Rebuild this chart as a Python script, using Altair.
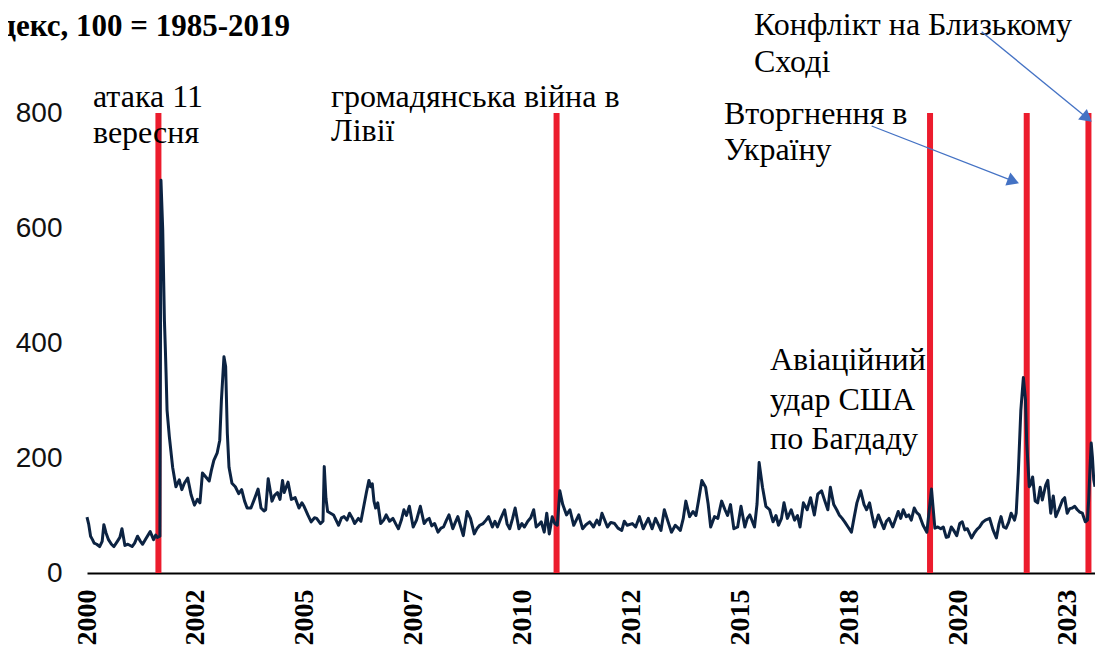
import altair as alt
import pandas as pd

# ---- series readings: decimal year / index value, by period ----
t_p1 = [2000.00, 2000.04, 2000.085, 2000.13, 2000.17, 2000.23, 2000.30, 2000.36, 2000.40, 2000.45,
        2000.51, 2000.58, 2000.64, 2000.72, 2000.78, 2000.83, 2000.90, 2000.97, 2001.07, 2001.13,
        2001.20, 2001.26, 2001.32, 2001.40, 2001.50, 2001.58, 2001.63, 2001.67, 2001.73]
v_p1 = [97, 85, 64, 58, 52, 50, 46, 55, 84, 70,
        58, 50, 46, 55, 62, 77, 48, 50, 46, 52,
        64, 56, 50, 60, 72, 58, 66, 62, 64]

t_p2 = [2001.755, 2001.797, 2001.837, 2001.86, 2001.876, 2001.90, 2001.954, 2002.032, 2002.11, 2002.19,
        2002.25, 2002.31, 2002.39, 2002.47, 2002.55, 2002.62, 2002.68, 2002.74, 2002.82, 2002.90,
        2002.95, 2003.01, 2003.09, 2003.15, 2003.19, 2003.25, 2003.29, 2003.33, 2003.37, 2003.44,
        2003.52, 2003.60, 2003.67, 2003.74, 2003.80, 2003.89, 2003.97]
v_p2 = [683, 597, 440, 388, 348, 283, 237, 184, 150, 162,
        145, 156, 165, 136, 118, 128, 122, 174, 167, 160,
        178, 196, 209, 231, 301, 376, 359, 243, 184, 156,
        150, 138, 145, 125, 113, 113, 128]

t_p3 = [2004.06, 2004.13, 2004.20, 2004.24, 2004.30, 2004.39, 2004.45, 2004.52, 2004.58, 2004.64,
        2004.68, 2004.77, 2004.85, 2004.94, 2005.03, 2005.10, 2005.15, 2005.24, 2005.32, 2005.40,
        2005.45, 2005.54, 2005.60, 2005.63, 2005.67, 2005.71, 2005.78, 2005.85, 2005.91, 2005.97,
        2006.04, 2006.10, 2006.17, 2006.23, 2006.30, 2006.35, 2006.44, 2006.50, 2006.56, 2006.63,
        2006.69, 2006.73, 2006.77, 2006.81, 2006.85, 2006.90, 2006.97]
v_p3 = [146, 113, 108, 110, 164, 125, 135, 140, 128, 161,
        140, 158, 128, 131, 113, 122, 116, 101, 89, 96,
        95, 86, 90, 185, 130, 107, 104, 101, 92, 83,
        96, 98, 92, 104, 95, 86, 95, 90, 113, 140,
        161, 150, 155, 125, 113, 122, 86]

t_p4 = [2007.04, 2007.10, 2007.18, 2007.26, 2007.33, 2007.39, 2007.46, 2007.52, 2007.58, 2007.65,
        2007.74, 2007.82, 2007.91, 2008.00, 2008.06, 2008.12, 2008.18, 2008.25, 2008.33, 2008.40,
        2008.46, 2008.53, 2008.59, 2008.68, 2008.74, 2008.80, 2008.87, 2008.93, 2009.02, 2009.10,
        2009.19, 2009.26, 2009.32, 2009.40, 2009.47, 2009.53, 2009.62, 2009.68, 2009.74, 2009.82,
        2009.91, 2009.97, 2010.03, 2010.10, 2010.16, 2010.25, 2010.32, 2010.38, 2010.46, 2010.53,
        2010.60, 2010.66, 2010.72, 2010.78, 2010.85, 2010.91, 2010.97, 2011.04, 2011.10]
v_p4 = [92, 101, 90, 95, 85, 77, 92, 110, 100, 116,
        80, 92, 116, 86, 92, 95, 82, 86, 71, 78,
        80, 92, 101, 77, 88, 98, 80, 65, 107, 95,
        68, 78, 83, 86, 92, 98, 80, 90, 80, 95,
        110, 85, 77, 95, 113, 77, 86, 80, 90, 96,
        110, 80, 84, 89, 71, 104, 68, 98, 86]

t_p5 = [2011.16, 2011.22, 2011.29, 2011.38, 2011.46, 2011.55, 2011.61, 2011.67, 2011.76, 2011.84,
        2011.93, 2012.02, 2012.10, 2012.16, 2012.22, 2012.35, 2012.43, 2012.52, 2012.60, 2012.69,
        2012.75, 2012.82, 2012.94, 2013.02, 2013.11, 2013.20, 2013.32, 2013.41, 2013.49, 2013.56,
        2013.62, 2013.70, 2013.79, 2013.87, 2013.96, 2014.03, 2014.08, 2014.15, 2014.21, 2014.30,
        2014.38, 2014.45, 2014.51, 2014.59, 2014.68, 2014.74, 2014.80, 2014.89, 2014.97]
v_p5 = [83, 143, 119, 101, 110, 83, 92, 101, 77, 84,
        89, 80, 92, 84, 104, 80, 88, 86, 78, 74,
        90, 83, 86, 80, 98, 77, 95, 77, 95, 84,
        74, 110, 89, 71, 83, 78, 74, 95, 125, 98,
        107, 100, 125, 161, 149, 120, 80, 98, 95]

t_p6 = [2015.06, 2015.14, 2015.20, 2015.27, 2015.35, 2015.44, 2015.52, 2015.61, 2015.67, 2015.73,
        2015.84, 2015.90, 2015.95, 2016.03, 2016.11, 2016.20, 2016.28, 2016.35, 2016.41, 2016.48,
        2016.54, 2016.62, 2016.71, 2016.79, 2016.86, 2016.92, 2017.00, 2017.09, 2017.17, 2017.26,
        2017.34, 2017.43, 2017.51, 2017.58, 2017.64, 2017.72, 2017.79, 2017.85, 2017.92, 2017.98,
        2018.06, 2018.14, 2018.20, 2018.27, 2018.36, 2018.44, 2018.50, 2018.57, 2018.63, 2018.69,
        2018.78, 2018.85, 2018.91, 2018.97, 2019.03, 2019.12, 2019.18, 2019.25, 2019.31, 2019.37,
        2019.44, 2019.50, 2019.56, 2019.63, 2019.69, 2019.75, 2019.84, 2019.93]
v_p6 = [125, 110, 100, 119, 77, 80, 116, 80, 95, 101,
        80, 120, 192, 149, 116, 110, 89, 100, 83, 95,
        122, 95, 110, 92, 100, 80, 122, 110, 131, 101,
        137, 143, 125, 110, 149, 119, 110, 101, 95, 89,
        80, 71, 95, 122, 143, 119, 110, 122, 100, 80,
        101, 88, 77, 90, 95, 80, 92, 107, 95, 110,
        98, 101, 92, 113, 105, 101, 83, 71]

t_p7 = [2020.04, 2020.12, 2020.19, 2020.26, 2020.32, 2020.39, 2020.44, 2020.51, 2020.56, 2020.64,
        2020.71, 2020.77, 2020.83, 2020.89, 2020.99, 2021.06, 2021.12, 2021.18, 2021.25, 2021.32,
        2021.42, 2021.50, 2021.58, 2021.64, 2021.69, 2021.75, 2021.81, 2021.87, 2021.93, 2022.01,
        2022.05, 2022.10, 2022.16, 2022.22, 2022.27, 2022.30, 2022.36, 2022.40, 2022.44, 2022.50,
        2022.56, 2022.62, 2022.67, 2022.75, 2022.80, 2022.87, 2022.93, 2022.99, 2023.06, 2023.15,
        2023.20, 2023.26, 2023.32, 2023.38, 2023.44, 2023.50, 2023.56, 2023.62, 2023.69, 2023.74,
        2023.77, 2023.80, 2023.83, 2023.86, 2023.89, 2023.92]
v_p7 = [146, 78, 80, 77, 80, 62, 63, 80, 75, 65,
        86, 89, 75, 77, 61, 70, 76, 80, 88, 92,
        95, 75, 61, 85, 98, 80, 78, 88, 104, 92,
        104, 174, 283, 340, 301, 226, 150, 155, 167, 125,
        122, 149, 127, 153, 161, 104, 134, 98, 110, 127,
        131, 104, 112, 113, 116, 110, 106, 104, 89, 92,
        127, 180, 226, 200, 162, 150]

# ---- events (red vertical lines) ----
event_dates = ["2001-09-11", "2011-02-22", "2020-01-03", "2022-04-20", "2023-10-07"]

# ---- annotations ----
ann_text = ["атака 11", "вересня", "громадянська війна в", "Лівії",
            "Конфлікт на Близькому", "Сході", "Вторгнення в", "Україну",
            "Авіаційний", "удар США", "по Багдаду"]
ann_year = [2000.142, 2000.142, 2005.790, 2005.790,
            2015.828, 2015.828, 2015.116, 2015.116,
            2016.208, 2016.208, 2016.208]
ann_value = [810, 748, 810, 751,
             936, 871, 781, 718,
             353, 284, 216]

title_text = "Індекс, 100 = 1985-2019"
title_year = 2004.817
title_value = 934

# arrows: start (year, value) -> head (year, value), head angle (deg)
arrow_y0 = [2018.621, 2021.231]
arrow_v0 = [777.4, 941.4]
arrow_y1 = [2021.984, 2023.733]
arrow_v1 = [681.4, 791.3]
arrow_ang = [21.3, 39.3]

tick_dates = ["2000-01-01", "2002-08-02", "2005-03-03", "2007-10-03", "2010-05-04",
              "2012-12-03", "2015-07-05", "2018-02-03", "2020-09-04", "2023-04-06"]
x_domain_years = [2000.0, 2023.92]
y_ticks = [0, 200, 400, 600, 800]


def dec_to_iso(y):
    ts = pd.Timestamp("2000-01-01") + pd.Timedelta(days=(y - 2000.0) * 365.25)
    return ts.strftime("%Y-%m-%dT%H:%M:%S")


t_all = t_p1 + t_p2 + t_p3 + t_p4 + t_p5 + t_p6 + t_p7
v_all = v_p1 + v_p2 + v_p3 + v_p4 + v_p5 + v_p6 + v_p7
line_df = pd.DataFrame({"date": [dec_to_iso(t) for t in t_all], "value": v_all})
ev_df = pd.DataFrame({"date": [d + "T00:00:00" for d in event_dates], "lo": 0, "hi": 800})
ann_df = pd.DataFrame({"date": [dec_to_iso(t) for t in ann_year], "value": ann_value, "text": ann_text})
title_df = pd.DataFrame({"date": [dec_to_iso(title_year)], "value": [title_value], "text": [title_text]})
arr_df = pd.DataFrame({
    "date": [dec_to_iso(t) for t in arrow_y0], "value": arrow_v0,
    "date2": [dec_to_iso(t) for t in arrow_y1], "value2": arrow_v1,
    "ang": arrow_ang,
})

NAVY = "#0c2342"
RED = "#ec1c2d"
BLUE = "#4472c4"

x_scale = alt.Scale(domain=[dec_to_iso(x_domain_years[0]), dec_to_iso(x_domain_years[1])])
y_scale = alt.Scale(domain=[0, 800], nice=False, zero=True)

x_axis = alt.Axis(
    values=[d + "T00:00:00" for d in tick_dates], format="%Y", title=None,
    labelAngle=270, labelFont="Liberation Serif", labelFontWeight="bold", labelFontSize=28,
    labelColor="#000000", labelPadding=16, labelFlush=False, labelOverlap=False, labelBound=False,
    ticks=False, grid=False, domain=True, domainColor="#000000", domainWidth=2,
)
y_axis = alt.Axis(
    values=y_ticks, title=None, labelFont="Liberation Sans", labelFontSize=28,
    labelColor="#111111", labelPadding=25, ticks=False, grid=False, domain=False,
)

X = alt.X("date:T", scale=x_scale, axis=x_axis)
Y = alt.Y("value:Q", scale=y_scale, axis=y_axis)

events = alt.Chart(ev_df).mark_rule(color=RED, strokeWidth=6).encode(
    x=X, y=alt.Y("lo:Q", scale=y_scale, axis=y_axis), y2="hi:Q"
)
line = alt.Chart(line_df).mark_line(color=NAVY, strokeWidth=3, strokeJoin="round").encode(x=X, y=Y)
ann = alt.Chart(ann_df).mark_text(
    align="left", baseline="alphabetic", font="Liberation Serif", fontSize=32, color="#000000"
).encode(x=X, y=Y, text="text:N")
ttl = alt.Chart(title_df).mark_text(
    align="right", baseline="alphabetic", font="Liberation Serif", fontSize=31,
    fontWeight="bold", color="#000000"
).encode(x=X, y=Y, text="text:N")
arrow_lines = alt.Chart(arr_df).mark_rule(color=BLUE, strokeWidth=1.3).encode(
    x=X, y=Y, x2="date2:T", y2="value2:Q"
)
arrow_heads = alt.Chart(arr_df).mark_point(
    shape="triangle-right", filled=True, color=BLUE, opacity=1, size=190
).encode(
    x=alt.X("date2:T", scale=x_scale, axis=x_axis),
    y=alt.Y("value2:Q", scale=y_scale, axis=y_axis),
    angle=alt.Angle("ang:Q", scale=None),
)

chart = alt.layer(events, line, ann, ttl, arrow_lines, arrow_heads).properties(
    width=1008, height=460,
    autosize=alt.AutoSizeParams(type="none"),
    padding={"left": 79, "top": 105, "right": 0, "bottom": 73},
    background="white",
).configure_view(stroke="transparent")

chart.save("out.html", embed_options={"renderer": "svg", "actions": False})
